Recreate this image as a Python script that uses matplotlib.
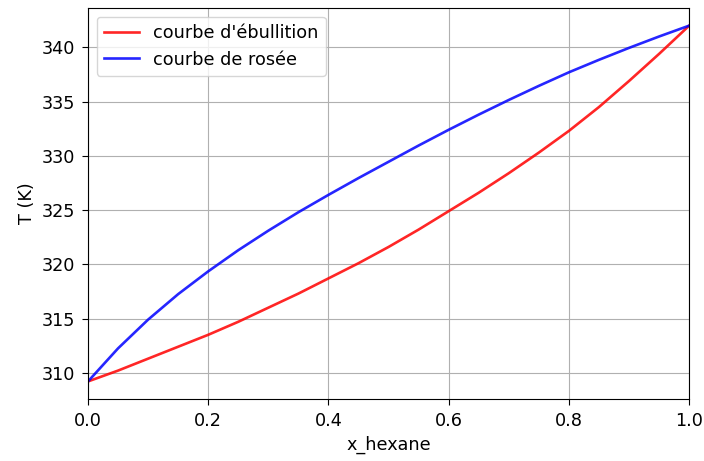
import numpy as np
import matplotlib
matplotlib.use('Agg')
import matplotlib.pyplot as plt

# fraction molaire d'hexane
x_hexane = [0.00, 0.05, 0.10, 0.15, 0.20, 0.25, 0.30, 0.35, 0.40, 0.45, 0.50,
            0.55, 0.60, 0.65, 0.70, 0.75, 0.80, 0.85, 0.90, 0.95, 1.00]
# temperatures (K)
T_ebullition = [309.2, 310.2, 311.3, 312.4, 313.5, 314.7, 316.0, 317.3, 318.7, 320.1, 321.6,
                323.2, 324.9, 326.6, 328.4, 330.3, 332.3, 334.5, 336.9, 339.4, 342.0]
T_rosee = [309.2, 312.25, 314.9, 317.25, 319.35, 321.3, 323.1, 324.8, 326.4, 327.95, 329.45,
           330.95, 332.4, 333.8, 335.15, 336.45, 337.7, 338.85, 339.95, 341.0, 342.0]

plt.rcParams['font.size'] = 12.7
for a in ('xtick', 'ytick'):
    plt.rcParams[a + '.major.size'] = 4.6
    plt.rcParams[a + '.major.pad'] = 4.6

fig = plt.figure(figsize=(7.04, 4.61), dpi=100)
ax = fig.add_axes([0.125, 0.134, 0.854, 0.849])

ax.plot(x_hexane, T_ebullition, color='red', alpha=0.85, lw=1.9, label="courbe d'ébullition")
ax.plot(x_hexane, T_rosee, color='blue', alpha=0.85, lw=1.9, label='courbe de rosée')
ax.set_xlim(0, 1)
ax.set_xlabel('x_hexane')
ax.set_ylabel('T (K)')
ax.grid()
ax.legend(loc='upper left')

fig.savefig('out.png', dpi=100)
